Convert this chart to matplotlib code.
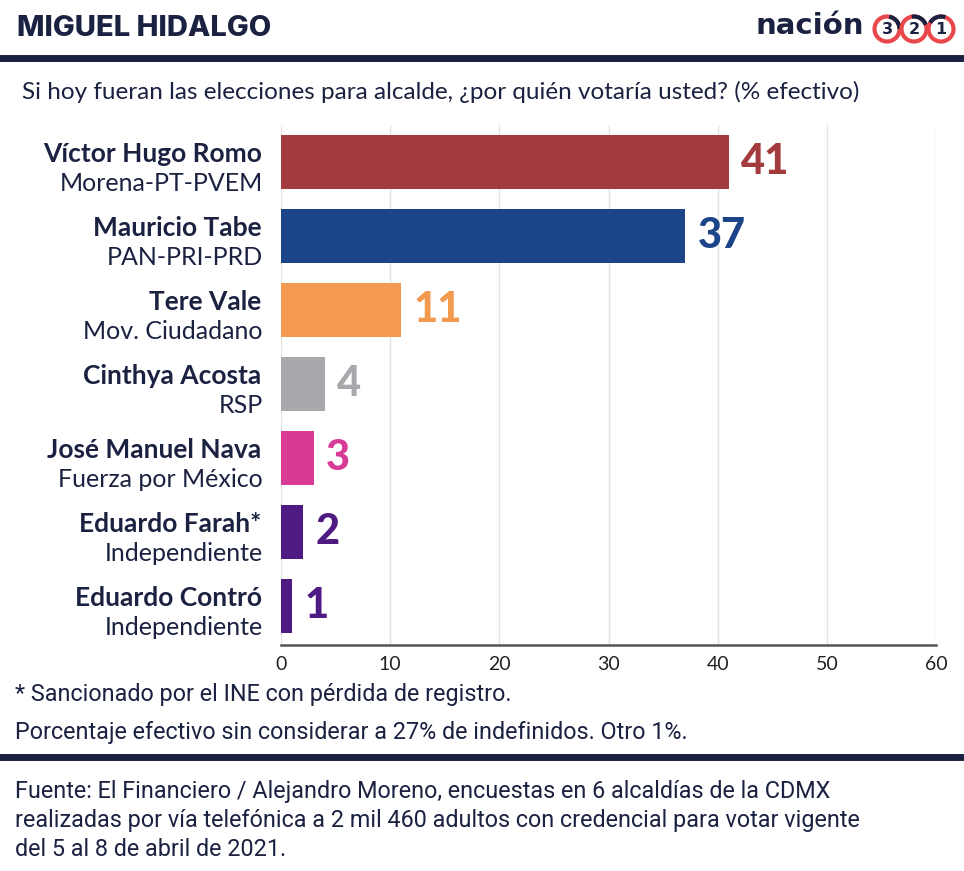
import matplotlib
matplotlib.use("Agg")
import matplotlib.pyplot as plt
from matplotlib.patches import Circle, Arc

# datos
candidatos = ["Víctor Hugo Romo", "Mauricio Tabe", "Tere Vale", "Cinthya Acosta",
              "José Manuel Nava", "Eduardo Farah*", "Eduardo Contró"]
partidos = ["Morena-PT-PVEM", "PAN-PRI-PRD", "Mov. Ciudadano", "RSP",
            "Fuerza por México", "Independiente", "Independiente"]
valores = [41, 37, 11, 4, 3, 2, 1]
colores = ["#a33a3e", "#1b4489", "#f39a50", "#a7a9ac", "#d83b96", "#4f1a82", "#4f1a82"]
ticks = [0, 10, 20, 30, 40, 50, 60]

titulo = "MIGUEL HIDALGO"
subtitulo = "Si hoy fueran las elecciones para alcalde, ¿por quién votaría usted? (% efectivo)"
notas = ["* Sancionado por el INE con pérdida de registro.",
         "Porcentaje efectivo sin considerar a 27% de indefinidos. Otro 1%."]
fuente = ["Fuente: El Financiero / Alejandro Moreno, encuestas en 6 alcaldías de la CDMX",
          "realizadas por vía telefónica a 2 mil 460 adultos con credencial para votar vigente",
          "del 5 al 8 de abril de 2021."]

NAVY = "#1b2140"
W, H = 964, 871
plt.rcParams['font.family'] = ["Lato", "DejaVu Sans"]


def fx(px):
    return px / W


def fy(py):
    return 1 - py / H


fig = plt.figure(figsize=(W / 100, H / 100), dpi=100)
fig.patch.set_facecolor("white")

ax = fig.add_axes([fx(281), fy(645), fx(936) - fx(281), fy(125) - fy(645)])
y = list(range(len(valores)))
ax.barh(y, valores, height=0.73, color=colores, zorder=3)
ax.set_xlim(0, 60)
ax.set_ylim(6.53, -0.5)
ax.set_xticks(ticks)
ax.set_yticks([])
ax.grid(axis="x", color="#e4e4e4", linewidth=1, zorder=0)
for s in ["top", "right", "left"]:
    ax.spines[s].set_visible(False)
ax.spines["bottom"].set_color("#555555")
ax.spines["bottom"].set_linewidth(1.8)
ax.tick_params(axis="x", length=0, pad=8, labelsize=14, labelcolor="#222222")

for i, (v, c) in enumerate(zip(valores, colores)):
    ax.annotate(str(v), (v, i), xytext=(9, 0), textcoords="offset points",
                ha="left", va="center", fontsize=30, fontweight="black", color=c)
    ax.annotate(candidatos[i], (0, i), xytext=(-14, 0), textcoords="offset points",
                ha="right", va="baseline", fontsize=19, fontweight="bold", color=NAVY,
                annotation_clip=False)
    ax.annotate(partidos[i], (0, i), xytext=(-13, -21), textcoords="offset points",
                ha="right", va="baseline", fontsize=18, fontweight="normal", color=NAVY,
                annotation_clip=False)

# encabezado
fig.text(fx(17), fy(28), titulo, ha="left", va="center", fontsize=21,
         fontweight="heavy", color=NAVY, family=["Inter", "DejaVu Sans"])
fig.text(fx(755), fy(26), "nación", ha="left", va="center", fontsize=21,
         fontweight="bold", color=NAVY, family=["DejaVu Sans"])
for cx, d, a0 in zip([887, 914, 941], ["3", "2", "1"], [0, 20, 70]):
    fig.add_artist(Circle((cx / 100, (H - 29) / 100), 0.125, transform=fig.dpi_scale_trans,
                          facecolor="white", edgecolor="#e8474c", linewidth=3))
    fig.add_artist(Arc((cx / 100, (H - 29) / 100), 0.25, 0.25, theta1=a0, theta2=a0 + 80,
                       transform=fig.dpi_scale_trans, color=NAVY, linewidth=3))
    fig.text(fx(cx), fy(29), d, ha="center", va="center", fontsize=11.5,
             fontweight="bold", color=NAVY, family=["DejaVu Sans"])

fig.add_artist(plt.Line2D([0, 1], [fy(58), fy(58)], color=NAVY, linewidth=5))
fig.text(fx(22), fy(92), subtitulo, ha="left", va="center", fontsize=17.5, color=NAVY)

for k, t in enumerate(notas):
    fig.text(fx(15), fy(694 + 38 * k), t, ha="left", va="center", fontsize=16.8,
             color=NAVY, family=["Roboto", "DejaVu Sans"])
fig.add_artist(plt.Line2D([0, 1], [fy(757), fy(757)], color=NAVY, linewidth=5))
for k, t in enumerate(fuente):
    fig.text(fx(15), fy(791 + 29 * k), t, ha="left", va="center", fontsize=16.8,
             color=NAVY, family=["Roboto", "DejaVu Sans"])

fig.savefig("out.png", dpi=100, facecolor="white")
